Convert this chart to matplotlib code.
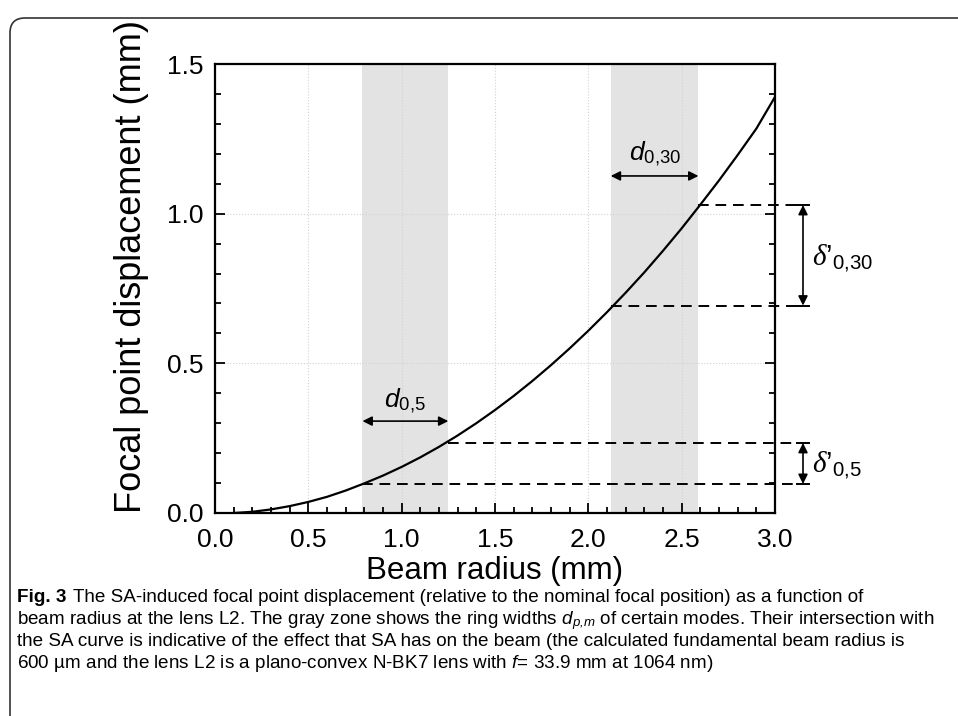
import matplotlib
matplotlib.use('Agg')
import matplotlib.pyplot as plt
from matplotlib.patches import FancyBboxPatch

# data
beam_radius = [0.1, 0.2, 0.3, 0.4, 0.5, 0.6, 0.7, 0.8, 0.9, 1.0,
               1.1, 1.2, 1.3, 1.4, 1.5, 1.6, 1.7, 1.8, 1.9, 2.0,
               2.1, 2.2, 2.3, 2.4, 2.5, 2.6, 2.7, 2.8, 2.9, 3.0]
displacement = [0.000, 0.004, 0.012, 0.023, 0.037, 0.054, 0.075, 0.099, 0.125, 0.154,
                0.186, 0.221, 0.259, 0.300, 0.344, 0.391, 0.441, 0.494, 0.550, 0.609,
                0.671, 0.736, 0.804, 0.876, 0.951, 1.030, 1.111, 1.196, 1.284, 1.390]

ring_0_5 = [0.79, 1.25]
ring_0_30 = [2.12, 2.59]
shift_0_5 = [0.097, 0.234]
shift_0_30 = [0.693, 1.029]

x_ticks = [0.0, 0.5, 1.0, 1.5, 2.0, 2.5, 3.0]
y_ticks = [0.0, 0.5, 1.0, 1.5]

caption_lines = [
    "The SA-induced focal point displacement (relative to the nominal focal position) as a function of",
    "beam radius at the lens L2. The gray zone shows the ring widths $\\mathsf{d}_{\\mathsf{p{,}m}}$ of certain modes. Their intersection with",
    "the SA curve is indicative of the effect that SA has on the beam (the calculated fundamental beam radius is",
    "600 \u00b5m and the lens L2 is a plano-convex N-BK7 lens with $\\mathsf{f}$= 33.9 mm at 1064 nm)",
]

plt.rcParams['font.family'] = ['Liberation Sans', 'DejaVu Sans']
plt.rcParams['mathtext.fontset'] = 'custom'
plt.rcParams['mathtext.rm'] = 'Liberation Sans'
plt.rcParams['mathtext.it'] = 'Liberation Serif:italic'
plt.rcParams['mathtext.sf'] = 'Liberation Sans:italic'

fig = plt.figure(figsize=(9.58, 7.16), dpi=100)
ax = fig.add_axes([215/958, 1-513/716, 560/958, 449/716])

# gray ring zones
for band in [ring_0_5, ring_0_30]:
    ax.axvspan(band[0], band[1], color='#e3e3e3', lw=0, zorder=0)

ax.plot(beam_radius, displacement, color='k', lw=1.6, zorder=3)

ax.set_xlim(0, 3.0)
ax.set_ylim(0, 1.5)
ax.set_xticks(x_ticks)
ax.set_yticks(y_ticks)
ax.set_xticklabels(['%.1f' % v for v in x_ticks])
ax.set_yticklabels(['%.1f' % v for v in y_ticks])
ax.set_xticks([i/10 for i in range(31)], minor=True)
ax.set_yticks([i/10 for i in range(16)], minor=True)
ax.grid(which='major', color='#d2d2d2', linestyle=':', linewidth=0.8, zorder=1)
ax.set_axisbelow(True)

ax.tick_params(which='both', direction='in', top=False, right=True, width=1.3)
ax.tick_params(which='major', length=7, labelsize=19)
ax.tick_params(axis='x', which='major', pad=11)
ax.tick_params(axis='y', which='major', pad=8)
ax.tick_params(which='minor', length=4)
for s in ax.spines.values():
    s.set_linewidth(1.6)

ax.set_xlabel('Beam radius (mm)', fontsize=22.5)
ax.set_ylabel('Focal point displacement (mm)', fontsize=26)
ax.xaxis.set_label_coords(0.5, -0.096)
ax.yaxis.set_label_coords(-0.118, 0.55)

# dashed level lines from the curve out past the axes
dash = (0, (5.5, 3.5))
for band, levels in [(ring_0_5, shift_0_5), (ring_0_30, shift_0_30)]:
    for bx, lv in zip(band, levels):
        ax.plot([bx, 3.12], [lv, lv], color='k', lw=1.4, linestyle=dash, clip_on=False, zorder=4)
        ax.plot([3.12, 3.18], [lv, lv], color='k', lw=1.4, clip_on=False, zorder=4)

arrow = dict(arrowstyle='<|-|>', color='k', lw=1.2, mutation_scale=14, shrinkA=0, shrinkB=0)
# ring width arrows
ax.annotate('', xy=(ring_0_5[1], 0.307), xytext=(ring_0_5[0], 0.307), arrowprops=arrow, zorder=5)
ax.annotate('', xy=(ring_0_30[1], 1.126), xytext=(ring_0_30[0], 1.126), arrowprops=arrow, zorder=5)
ax.text(1.02, 0.375, r'$\mathsf{d}_{0{,}5}$', fontsize=19, ha='center', va='center')
ax.text(2.36, 1.2, r'$\mathsf{d}_{0{,}30}$', fontsize=19, ha='center', va='center')

# displacement arrows
ax.annotate('', xy=(3.15, shift_0_5[1]), xytext=(3.15, shift_0_5[0]), xycoords='data',
            arrowprops=arrow, annotation_clip=False)
ax.annotate('', xy=(3.15, shift_0_30[1]), xytext=(3.15, shift_0_30[0]), xycoords='data',
            arrowprops=arrow, annotation_clip=False)
ax.text(3.2, 0.16, '$\\delta$\u2019$_{0{,}5}$', fontsize=21, ha='left', va='center', clip_on=False)
ax.text(3.2, 0.85, '$\\delta$\u2019$_{0{,}30}$', fontsize=21, ha='left', va='center', clip_on=False)

# caption
cap_size = 13.6
fig_lbl = fig.text(17/958, 1-602/716, 'Fig. 3', fontsize=cap_size, fontweight='bold', va='baseline')
plt.annotate(caption_lines[0], xy=(1, 0), xycoords=fig_lbl, xytext=(5, 0),
             textcoords='offset points', fontsize=cap_size, va='bottom')
for i, line in enumerate(caption_lines[1:]):
    fig.text(17/958, 1-(624+22*i)/716, line, fontsize=cap_size, va='baseline')

# rounded frame around the figure
frame = FancyBboxPatch((0.1, -0.3), 10.0, 7.34 - 0.06,
                       boxstyle='round,pad=0,rounding_size=0.15',
                       transform=fig.dpi_scale_trans, fill=False,
                       edgecolor='#333333', lw=1.2, clip_on=False)
fig.patches.append(frame)

fig.savefig('out.png', dpi=100)
